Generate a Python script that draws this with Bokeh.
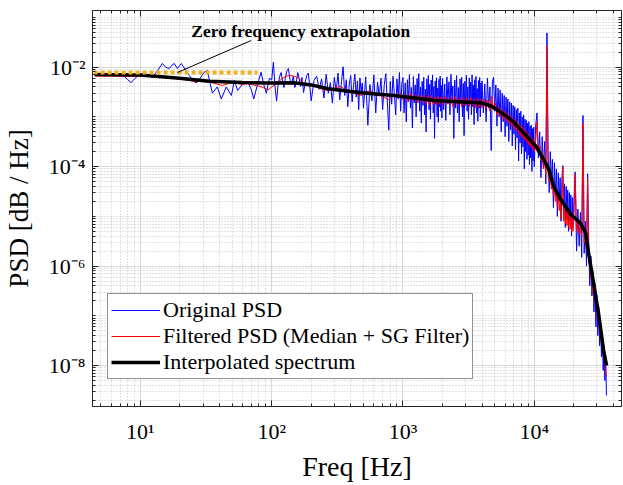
from bokeh.plotting import figure
from bokeh.models import (ColumnDataSource, FixedTicker, CustomJSTickFormatter, LogAxis,
                          Label, Legend, LegendItem, Range1d)
from bokeh.embed import file_html
from bokeh.resources import INLINE

# ---------------- data ----------------
blue_freq_a = [4.5, 5, 5.5, 6, 6.5, 7, 7.5, 8, 8.5, 9, 9.8, 11, 12.3, 13.5, 14.7, 15.6, 16.6, 17.4, 18.1, 19.1,
               20.5, 22, 23.6, 25, 26.6, 28.5, 30.6, 32.3, 33.8, 35.3, 38.5, 41.3, 45.1, 49.3, 52, 55, 60, 66, 70, 73,
               78, 83, 87, 91, 96]
blue_psd_a = [7.0e-3, 7.1e-3, 7.0e-3, 6.9e-3, 7.0e-3, 7.2e-3, 6.6e-3, 5.6e-3, 4.9e-3, 5.8e-3,
              7.1e-3, 7.4e-3, 6.2e-3, 8.5e-3, 1.19e-2, 1.0e-2, 9.4e-3, 1.1e-2, 1.19e-2, 9.4e-3,
              1.19e-2, 8.8e-3, 6.8e-3, 5.5e-3, 4.8e-3, 6.0e-3, 7.9e-3, 8.6e-3, 5.0e-3, 3.0e-3,
              4.0e-3, 2.3e-3, 4.0e-3, 2.7e-3, 5.4e-3, 3.4e-3, 4.6e-3, 4.9e-3, 3.5e-3, 2.3e-3,
              4.5e-3, 7.9e-3, 4.5e-3, 3.0e-3, 6.0e-3]

blue_freq_b = [100, 103, 106, 109, 112, 115, 118, 121, 124, 127, 130, 134, 138, 142, 146, 150, 154, 158, 162, 166,
               170, 175, 180, 185, 190, 195,
               200, 210, 220, 230, 240, 250, 260, 270, 280, 290, 300, 310, 320, 330, 340, 350, 360, 370, 380, 390,
               400, 410, 420, 430, 440, 450, 460, 470, 480, 490,
               500, 520, 540, 560, 580, 600, 620, 640, 660, 680, 700, 720, 740, 760, 780, 800, 820, 840, 860, 880,
               900, 920, 940, 960, 980]
blue_psd_b = [5.5e-3, 1.26e-2, 4.0e-3, 2.1e-3, 4.6e-3, 6.5e-3, 7.8e-3, 5.2e-3, 3.9e-3, 6.0e-3,
              8.2e-3, 9.4e-3, 5.6e-3, 4.4e-3, 6.6e-3, 3.9e-3, 5.0e-3, 7.8e-3, 5.8e-3, 4.1e-3,
              6.2e-3, 3.1e-3, 5.0e-3, 6.8e-3, 7.6e-3, 4.2e-3,
              2.1e-3, 5.4e-3, 6.6e-3, 3.6e-3, 5.8e-3, 2.4e-3, 7.2e-3, 3.0e-3, 4.9e-3, 1.9e-3,
              6.2e-3, 3.3e-3, 7.6e-3, 2.2e-3, 5.1e-3, 1.02e-2, 2.7e-3, 5.6e-3, 1.6e-3, 4.6e-3,
              6.8e-3, 2.0e-3, 4.2e-3, 7.3e-3, 2.5e-3, 5.3e-3, 1.4e-3, 6.1e-3, 3.2e-3, 4.8e-3,
              1.5e-3, 6.4e-3, 6.8e-4, 4.5e-3, 2.1e-3, 7.0e-3, 1.2e-3, 5.0e-3, 2.6e-3, 6.0e-3,
              1.4e-3, 4.4e-3, 7.4e-3, 2.0e-3, 5.4e-4, 5.2e-3, 1.8e-3, 6.6e-3, 2.9e-3, 1.1e-3,
              5.8e-3, 2.3e-3, 7.8e-3, 1.3e-3, 4.6e-3]

blue_freq_c = [1000, 1020, 1040, 1060, 1080, 1100, 1120, 1140, 1160, 1180, 1200, 1220, 1240, 1260, 1280, 1300,
               1320, 1340, 1360, 1380, 1400, 1420, 1440, 1460, 1480, 1500, 1520, 1540, 1560, 1580, 1600, 1620,
               1640, 1660, 1680, 1700, 1720, 1740, 1760, 1780, 1800, 1820, 1840, 1860, 1880, 1900, 1920, 1940,
               1960, 1980,
               2000, 2040, 2080, 2120, 2160, 2200, 2240, 2280, 2320, 2360, 2400, 2440, 2480, 2520, 2560, 2600,
               2640, 2680, 2720, 2760, 2800, 2840, 2880, 2920, 2960, 3000, 3040, 3080, 3120, 3160, 3200, 3240,
               3280, 3320, 3360, 3400, 3440, 3480, 3520, 3560, 3600, 3640, 3680, 3720, 3760, 3800, 3840, 3880,
               3920, 3960,
               4000, 4100, 4200, 4300, 4400, 4500, 4600, 4700, 4800, 4900, 5000, 5100, 5200, 5300, 5400, 5500,
               5600, 5700, 5800, 5900, 6000, 6100, 6200, 6300, 6400, 6500, 6600, 6700, 6800, 6900, 7000, 7100,
               7200, 7300, 7400, 7500, 7600, 7700, 7800, 7900, 8000, 8100, 8200, 8300, 8400, 8500, 8600, 8700,
               8800, 8900, 9000, 9100, 9200, 9300, 9400, 9500, 9600, 9700, 9800, 9900]
blue_psd_c = [6.2e-3, 1.2e-3, 4.8e-3, 8.0e-4, 5.6e-3, 2.0e-3, 7.1e-3, 1.5e-3, 3.9e-3, 6.0e-4,
              6.5e-3, 1.9e-3, 4.4e-3, 1.0e-3, 5.9e-3, 2.4e-3, 7.4e-3, 1.3e-3, 4.0e-3, 7.5e-4,
              5.2e-3, 1.7e-3, 6.3e-3, 1.1e-3, 3.6e-3, 5.0e-4, 5.8e-3, 2.0e-3, 6.8e-3, 1.4e-3,
              4.5e-3, 9.0e-4, 5.5e-3, 2.2e-3, 7.0e-3, 1.2e-3, 4.1e-3, 3.7e-4, 5.3e-3, 1.8e-3,
              6.1e-3, 1.0e-3, 3.8e-3, 7.8e-4, 5.7e-3, 1.6e-3, 6.6e-3, 1.3e-3, 4.3e-3, 9.5e-4,
              5.9e-3, 1.4e-3, 4.6e-3, 8.5e-4, 6.4e-3, 1.9e-3, 5.1e-3, 1.1e-3, 7.2e-3, 2.1e-3,
              4.2e-3, 3.7e-4, 5.5e-3, 1.5e-3, 6.8e-3, 1.2e-3, 3.9e-3, 8.0e-4, 5.8e-3, 2.0e-3,
              6.3e-3, 1.0e-3, 4.7e-3, 4.2e-4, 5.2e-3, 1.7e-3, 6.9e-3, 1.3e-3, 4.0e-3, 9.0e-4,
              6.1e-3, 1.8e-3, 5.0e-3, 1.1e-3, 7.0e-3, 1.6e-3, 4.4e-3, 7.0e-4, 5.6e-3, 2.0e-3,
              6.5e-3, 1.2e-3, 3.7e-3, 8.2e-4, 5.4e-3, 1.5e-3, 6.2e-3, 1.0e-3, 4.8e-3, 1.7e-3,
              5.3e-3, 1.2e-3, 4.6e-3, 8.0e-4, 6.0e-3, 1.5e-3, 4.0e-3, 2.1e-4, 5.0e-3, 6.3e-3,
              1.3e-3, 4.4e-3, 6.5e-4, 3.8e-3, 1.0e-3, 3.5e-3, 5.0e-4, 3.0e-3, 8.0e-4, 2.7e-3,
              4.0e-4, 2.5e-3, 6.5e-4, 2.3e-3, 3.2e-4, 2.0e-3, 5.5e-4, 1.9e-3, 2.6e-4, 1.7e-3,
              4.5e-4, 1.6e-3, 2.2e-4, 1.4e-3, 3.8e-4, 1.5e-3, 1.3e-4, 1.2e-3, 3.0e-4, 1.3e-3,
              1.8e-4, 1.0e-3, 2.5e-4, 1.1e-3, 9.0e-5, 9.0e-4, 2.0e-4, 8.5e-4, 1.4e-4, 7.5e-4,
              1.7e-4, 8.0e-4, 1.1e-4, 6.5e-4, 1.5e-4, 6.8e-4, 8.0e-5, 5.8e-4, 1.3e-4, 6.2e-4]

blue_freq_d = [10000, 10250, 10500, 10750, 11000, 11250, 11500, 11750, 12000, 12250, 12500, 12750, 13000, 13250,
               13500, 13750, 14000, 14250, 14500, 14750, 15000, 15250, 15500, 15750, 16000, 16250, 16500, 16750,
               17000, 17250, 17500, 17750, 18000, 18250, 18500, 18750, 19000, 19250, 19500, 19750,
               20000, 20500, 21000, 21500, 22000, 22500, 23000, 23500, 24000, 24500, 25000, 25500, 26000, 26500,
               27000, 27500, 28000, 28500, 29000, 29500, 30000, 30500, 31000, 31500, 32000, 32500, 33000, 33500,
               34000, 34500, 35000, 35500]
blue_psd_d = [1.0e-4, 6.5e-4, 1.2e-3, 1.5e-4, 5.0e-4, 6.0e-5, 4.0e-4, 9.0e-5, 3.2e-4, 4.5e-5,
              4.9e-2, 2.0e-4, 3.0e-5, 2.0e-4, 5.0e-5, 1.4e-4, 1.5e-5, 1.2e-4, 2.5e-5, 9.0e-5,
              1.0e-5, 7.5e-5, 2.0e-5, 6.0e-5, 8.0e-6, 5.5e-5, 1.05e-4, 1.2e-5, 4.5e-5, 6.0e-6,
              4.0e-5, 1.0e-5, 3.4e-5, 5.0e-6, 3.0e-5, 8.0e-6, 2.7e-5, 4.0e-6, 2.4e-5, 6.5e-6,
              1.6e-5, 7.8e-5, 2.0e-6, 1.4e-5, 2.5e-6, 1.2e-5, 1.5e-6, 1.07e-3, 1.8e-6, 8.0e-6,
              1.0e-6, 7.2e-5, 3.0e-6, 4.0e-7, 1.6e-6, 2.5e-7, 8.0e-7, 1.2e-7, 4.5e-7, 6.0e-8,
              2.6e-7, 4.0e-8, 1.5e-7, 2.5e-8, 8.0e-8, 1.5e-8, 4.5e-8, 8.0e-9, 2.5e-8, 5.0e-9,
              1.5e-8, 2.5e-9]

red_freq_a = [4.5, 6, 8, 10, 12, 14, 16, 18, 20, 23, 26, 30, 34, 38, 42, 46, 50, 55, 60, 66, 72, 79, 86, 94]
red_psd_a = [6.6e-3, 6.6e-3, 6.5e-3, 6.6e-3, 6.5e-3, 6.4e-3, 6.2e-3, 6.0e-3, 5.8e-3, 5.5e-3,
             5.1e-3, 5.3e-3, 5.0e-3, 4.6e-3, 4.3e-3, 4.6e-3, 4.9e-3, 4.7e-3, 4.5e-3, 4.7e-3,
             4.4e-3, 4.2e-3, 3.9e-3, 3.5e-3]

red_freq_b = [100, 110, 120, 130, 140, 150, 160, 170, 180, 190, 200, 215, 230, 250, 270, 290, 310, 330, 350, 370,
              390, 410, 430, 450, 480, 510, 540, 570, 600, 630, 660, 700, 740, 780, 820, 860, 900, 940, 980]
red_psd_b = [4.0e-3, 4.8e-3, 5.9e-3, 6.6e-3, 6.8e-3, 6.5e-3, 6.0e-3, 5.2e-3, 4.5e-3, 4.3e-3,
             4.6e-3, 4.1e-3, 3.8e-3, 3.5e-3, 3.4e-3, 3.7e-3, 3.9e-3, 4.1e-3, 3.8e-3, 3.2e-3,
             3.5e-3, 2.9e-3, 3.3e-3, 2.8e-3, 2.7e-3, 3.0e-3, 3.3e-3, 3.2e-3, 2.8e-3, 2.6e-3,
             2.9e-3, 2.5e-3, 2.4e-3, 2.2e-3, 2.6e-3, 2.8e-3, 2.7e-3, 3.0e-3, 2.8e-3]

red_freq_c = [1000, 1050, 1100, 1150, 1200, 1250, 1300, 1350, 1400, 1450, 1500, 1550, 1600, 1650, 1700, 1750,
              1800, 1850, 1900, 1950,
              2000, 2100, 2200, 2300, 2400, 2500, 2600, 2700, 2800, 2900, 3000, 3100, 3200, 3300, 3400, 3500,
              3600, 3700, 3800, 3900,
              4000, 4150, 4300, 4450, 4600, 4750, 4900, 5050, 5200, 5350, 5500, 5650, 5800, 5950, 6100, 6250,
              6400, 6550, 6700, 6850, 7000, 7150, 7300, 7450, 7600, 7750, 7900, 8050, 8200, 8350, 8500, 8650,
              8800, 8950, 9100, 9250, 9400, 9550, 9700, 9850]
red_psd_c = [2.2e-3, 2.9e-3, 2.0e-3, 3.0e-3, 2.1e-3, 2.8e-3, 1.9e-3, 2.7e-3, 2.0e-3, 2.8e-3,
             1.8e-3, 2.6e-3, 1.7e-3, 2.7e-3, 1.8e-3, 2.5e-3, 1.7e-3, 2.6e-3, 1.8e-3, 2.5e-3,
             1.7e-3, 2.6e-3, 1.8e-3, 2.5e-3, 1.6e-3, 2.6e-3, 1.7e-3, 2.4e-3, 1.6e-3, 2.5e-3,
             1.7e-3, 2.4e-3, 1.6e-3, 2.5e-3, 1.7e-3, 2.3e-3, 1.5e-3, 2.4e-3, 1.6e-3, 2.3e-3,
             1.5e-3, 2.3e-3, 1.5e-3, 2.2e-3, 1.3e-3, 2.6e-3, 1.4e-3, 1.9e-3, 1.1e-3, 1.6e-3,
             1.0e-3, 1.45e-3, 9.0e-4, 1.3e-3, 8.0e-4, 1.2e-3, 7.5e-4, 1.1e-3, 6.5e-4, 9.5e-4,
             5.8e-4, 8.8e-4, 5.2e-4, 8.0e-4, 4.6e-4, 7.2e-4, 4.2e-4, 6.6e-4, 3.7e-4, 5.8e-4,
             3.4e-4, 5.2e-4, 3.0e-4, 4.6e-4, 2.7e-4, 4.2e-4, 2.5e-4, 3.8e-4, 2.2e-4, 3.5e-4]

red_freq_d = blue_freq_d
red_psd_d = [2.0e-4, 3.2e-4, 8.0e-4, 1.9e-4, 2.6e-4, 1.3e-4, 1.9e-4, 9.0e-5, 1.4e-4, 7.0e-5,
             2.7e-2, 6.0e-5, 5.0e-5, 7.0e-5, 3.5e-5, 5.0e-5, 2.6e-5, 4.0e-5, 2.0e-5, 3.2e-5,
             1.6e-5, 2.6e-5, 1.3e-5, 2.2e-5, 9.0e-6, 1.7e-5, 1.0e-4, 8.0e-6, 1.4e-5, 7.0e-6,
             1.3e-5, 6.5e-6, 1.2e-5, 6.0e-6, 1.1e-5, 5.5e-6, 1.0e-5, 5.0e-6, 9.0e-6, 5.0e-6,
             8.0e-6, 7.0e-5, 5.0e-6, 7.5e-6, 4.5e-6, 6.5e-6, 4.0e-6, 7.4e-4, 3.0e-6, 4.0e-6,
             2.0e-6, 6.0e-5, 1.2e-6, 1.0e-6, 6.0e-7, 5.0e-7, 3.0e-7, 2.6e-7, 2.2e-7, 1.6e-7,
             1.2e-7, 9.0e-8, 7.0e-8, 5.0e-8, 4.0e-8, 3.0e-8, 2.4e-8, 1.8e-8, 1.4e-8, 1.1e-8,
             8.0e-9, 6.0e-9]

interp_freq = [4.47, 10, 19.8, 33.5, 60, 95.7, 148, 200, 269, 480, 855, 1371, 1721, 3122, 4000, 4700, 5500,
               6281, 7000, 7888, 9397, 10260, 11800, 12890, 14070, 15910, 18960, 22590, 24660, 25960, 28330,
               30910, 33780, 35560]
interp_psd = [7.1e-3, 7.0e-3, 6.0e-3, 5.2e-3, 4.9e-3, 4.8e-3, 4.85e-3, 4.4e-3, 3.67e-3, 3.05e-3,
              2.7e-3, 2.31e-3, 2.14e-3, 1.98e-3, 1.9e-3, 1.66e-3, 1.26e-3, 9.9e-4, 7.8e-4, 5.5e-4,
              3.35e-4, 2.6e-4, 1.4e-4, 8.9e-5, 4.0e-5, 2.2e-5, 1.1e-5, 7.2e-6, 4.6e-6, 1.8e-6,
              4.5e-7, 1.1e-7, 2.0e-8, 1.0e-8]

extrap_freq = [4.4, 78]
extrap_psd = [7.8e-3, 7.8e-3]

note_text = "Zero frequency extrapolation"
note_line_freq = [19.1, 69.8]
note_line_psd = [7.8e-3, 3.44e-2]
note_text_freq = 24.4
note_text_psd = 5.35e-2

x_tick_values = [10, 100, 1000, 10000]
x_tick_labels = ["10\u00b9", "10\u00b2", "10\u00b3", "10\u2074"]
y_tick_values = [1e-8, 1e-6, 1e-4, 1e-2]
y_tick_labels = ["10\u207b\u2078", "10\u207b\u2076", "10\u207b\u2074", "10\u207b\u00b2"]

x_title = "Freq [Hz]"
y_title = "PSD [dB / Hz]"
legend_labels = ["Original PSD", "Filtered PSD (Median + SG Filter)", "Interpolated spectrum"]


def joined(*pairs):
    fs, vs = [], []
    for fr, ps in pairs:
        n = min(len(fr), len(ps))
        fs += list(fr[:n])
        vs += list(ps[:n])
    return fs, vs


blue_f, blue_p = joined((blue_freq_a, blue_psd_a), (blue_freq_b, blue_psd_b),
                        (blue_freq_c, blue_psd_c), (blue_freq_d, blue_psd_d))
red_f, red_p = joined((red_freq_a, red_psd_a), (red_freq_b, red_psd_b),
                      (red_freq_c, red_psd_c), (red_freq_d, red_psd_d))

# ---------------- figure ----------------
SERIF = "Liberation Serif"
AX = "#262626"

p = figure(width=623, height=485, x_axis_type="log", y_axis_type="log",
           x_range=Range1d(4.315, 4.62e4), y_range=Range1d(1.5e-9, 0.138),
           output_backend="svg", toolbar_location=None,
           min_border_left=91, min_border_right=2, min_border_top=10, min_border_bottom=79)
p.background_fill_color = "white"
p.border_fill_color = "white"
p.outline_line_color = AX
p.outline_line_width = 1

x_minor = [m * 10.0 ** k for k in range(0, 5) for m in range(2, 10)]
y_minor = [m * 10.0 ** k for k in range(-10, 0) for m in range(1, 10)
           if not (m == 1 and k in (-8, -6, -4, -2))]
xt = FixedTicker(ticks=x_tick_values, minor_ticks=x_minor)
yt = FixedTicker(ticks=y_tick_values, minor_ticks=y_minor)

code = ("for (let i = 0; i < vals.length; i++) {"
        " if (Math.abs(Math.log10(vals[i]) - Math.log10(tick)) < 1e-6) return labs[i]; }"
        " return '';")
xfmt = CustomJSTickFormatter(args=dict(vals=x_tick_values, labs=x_tick_labels), code=code)
yfmt = CustomJSTickFormatter(args=dict(vals=y_tick_values, labs=y_tick_labels), code=code)


def style_axis(ax):
    ax.axis_line_color = AX
    ax.axis_line_width = 1
    ax.major_tick_line_color = AX
    ax.minor_tick_line_color = AX
    ax.major_tick_in = 6
    ax.major_tick_out = 0
    ax.minor_tick_in = 3
    ax.minor_tick_out = 0
    ax.major_label_text_font = SERIF
    ax.major_label_text_font_size = "22px"
    ax.major_label_text_color = "#000000"
    ax.axis_label_text_font = SERIF
    ax.axis_label_text_font_style = "normal"
    ax.axis_label_text_color = "#000000"


xa = p.xaxis[0]
xa.ticker = xt
xa.formatter = xfmt
style_axis(xa)
xa.major_label_standoff = 12
xa.axis_label = x_title
xa.axis_label_text_font_size = "28px"
xa.axis_label_standoff = 4

ya = p.yaxis[0]
ya.ticker = yt
ya.formatter = yfmt
style_axis(ya)
ya.major_label_standoff = 7
ya.axis_label = y_title
ya.axis_label_text_font_size = "27px"
ya.axis_label_standoff = 12

blank = CustomJSTickFormatter(code="return '';")
top = LogAxis(ticker=xt, formatter=blank)
style_axis(top)
top.major_label_text_font_size = "0px"
top.major_label_standoff = 0
p.add_layout(top, "above")
right = LogAxis(ticker=yt, formatter=blank)
style_axis(right)
right.major_label_text_font_size = "0px"
right.major_label_standoff = 0
p.add_layout(right, "right")

for g in (p.xgrid[0], p.ygrid[0]):
    g.grid_line_color = "#d8d8d8"
    g.grid_line_width = 1
    g.minor_grid_line_color = "#c4c4c4"
    g.minor_grid_line_width = 1
    g.minor_grid_line_dash = "1 2"

src_blue = ColumnDataSource(dict(f=blue_f, p=blue_p))
src_red = ColumnDataSource(dict(f=red_f, p=red_p))
src_black = ColumnDataSource(dict(f=interp_freq, p=interp_psd))

r_blue = p.line("f", "p", source=src_blue, line_color="#0000ff", line_width=1)
r_red = p.line("f", "p", source=src_red, line_color="#ff0000", line_width=1)
r_black = p.line("f", "p", source=src_black, line_color="#000000", line_width=3.5)
p.line(extrap_freq, extrap_psd, line_color="#f2b01e", line_width=4, line_dash="4 3")
p.line(note_line_freq, note_line_psd, line_color="#000000", line_width=1)

p.add_layout(Label(x=note_text_freq, y=note_text_psd, text=note_text, text_font=SERIF,
                   text_font_style="bold", text_font_size="17.5px", text_color="#000000",
                   text_baseline="alphabetic"))

legend = Legend(items=[LegendItem(label=legend_labels[0], renderers=[r_blue]),
                       LegendItem(label=legend_labels[1], renderers=[r_red]),
                       LegendItem(label=legend_labels[2], renderers=[r_black])],
                location=(15, 27))
legend.border_line_color = AX
legend.border_line_width = 1
legend.background_fill_color = "white"
legend.background_fill_alpha = 1
legend.padding = 3
legend.spacing = 0
legend.margin = 0
legend.glyph_width = 49
legend.glyph_height = 26
legend.label_height = 26
legend.label_standoff = 3
legend.label_text_font = SERIF
legend.label_text_font_size = "22px"
legend.label_text_line_height = 1.0
legend.label_text_color = "#000000"
p.add_layout(legend)

open("out.html", "w").write(file_html(p, INLINE))
